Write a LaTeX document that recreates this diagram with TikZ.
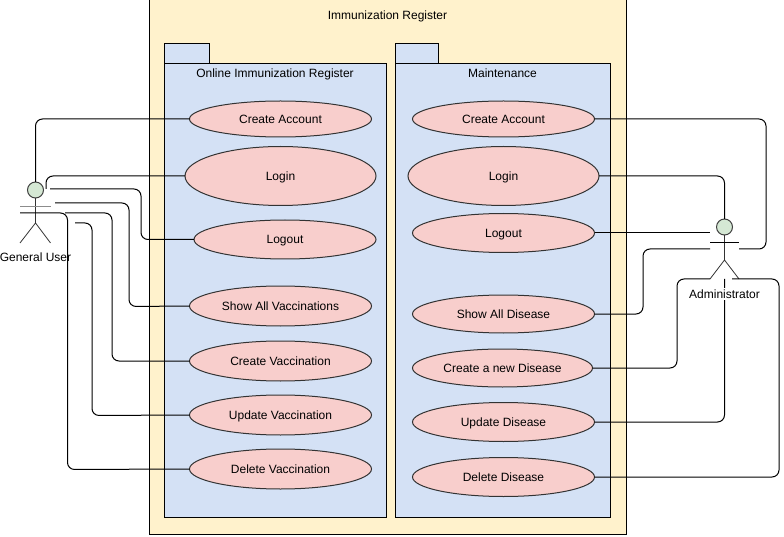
\documentclass[tikz,border=0pt]{standalone}
\usepackage{fontspec}
\setmainfont{Liberation Sans}
\usetikzlibrary{positioning, shapes.geometric}
\definecolor{frameyellow}{HTML}{FFF2CC}
\definecolor{packblue}{HTML}{D4E1F5}
\definecolor{casepink}{HTML}{F8CECC}
\definecolor{headgreen}{HTML}{D5E8D4}
\tikzset{
    box/.style={draw, rectangle, outer sep=0pt, inner sep=0pt},
    usecase/.style={draw=black!80, fill=casepink, ellipse, inner sep=0pt, outer sep=0pt, text height=8.6pt, text depth=0pt},
    casewide/.style={usecase, minimum width=182pt, minimum height=39pt},
    head/.style={draw=black!75, fill=headgreen, circle, minimum size=16pt, inner sep=0pt, outer sep=0pt},
    title/.style={inner sep=0pt, text height=8.6pt, text depth=0pt},
    link/.style={draw, rounded corners=7pt},
    limb/.style={draw=black!80, line width=0.8pt}
}
\begin{document}
\begin{tikzpicture}[x=1pt, y=-1pt, line width=1pt, font=\fontsize{12}{14}\selectfont]
    \useasboundingbox (0,0) rectangle (784,537);
    % frames
    \node [box, fill=frameyellow, minimum width=477pt, minimum height=534pt] (R) at (387.5, 267) {};
    \node [title] (Rt) at (387.5, 15) {Immunization Register};
    \node [box, fill=packblue, minimum width=45pt, minimum height=20pt] (Lt) at (186.5, 53.5) {};
    \node [box, fill=packblue, minimum width=222pt, minimum height=454pt] (L) at (275, 290.5) {};
    \node [title] (Ln) at (275, 73) {Online Immunization Register};
    \node [box, fill=packblue, minimum width=43pt, minimum height=20pt] (Mt) at (416.5, 53.5) {};
    \node [box, fill=packblue, minimum width=215pt, minimum height=454pt] (M) at (502.5, 290.5) {};
    \node [title] (Mn) at (502.5, 73) {Maintenance};
    % left use cases
    \node [casewide, minimum height=36pt] (LA) at (280.5, 119) {Create Account};
    \node [usecase, minimum width=191pt, minimum height=59pt] (LL) at (280.5, 176) {Login};
    \node [casewide] (LO) at (285, 239.5) {Logout};
    \node [casewide, minimum height=40pt] (LS) at (280.5, 306) {Show All Vaccinations};
    \node [casewide, minimum height=40pt] (LC) at (280.5, 361) {Create Vaccination};
    \node [casewide, minimum height=40pt] (LU) at (280.5, 415) {Update Vaccination};
    \node [casewide, minimum height=40pt] (LD) at (280.5, 469) {Delete Vaccination};
    % right use cases
    \node [casewide, minimum height=36pt] (MA) at (503.5, 119) {Create Account};
    \node [usecase, minimum width=191pt, minimum height=59pt] (ML) at (503.5, 176) {Login};
    \node [casewide] (MO) at (503.5, 233) {Logout};
    \node [casewide, minimum height=38pt] (MS) at (503.5, 314) {Show All Disease};
    \node [casewide, minimum width=180pt, minimum height=38pt] (MC) at (502.5, 368) {Create a new Disease};
    \node [casewide] (MU) at (503.5, 422) {Update Disease};
    \node [casewide] (MD) at (503.5, 477) {Delete Disease};
    % general user
    \node [head] (G) at (35.5, 190) {};
    \coordinate (Gb) at (35.5, 223);
    \coordinate (Gl) at (20, 243);
    \coordinate (Gr) at (50.5, 243);
    \draw [limb] (G) -- (Gb);
    \draw [limb] (Gl) -- (Gb) -- (Gr);
    \draw [draw=black!45] (20, 207) -- (50.5, 207);
    % administrator
    \node [head] (A) at (724.5, 227) {};
    \coordinate (Ab) at (724.5, 260);
    \coordinate (Al) at (710, 279);
    \coordinate (Ar) at (739, 279);
    \draw [limb] (A) -- (Ab);
    \draw [limb] (Al) -- (Ab) -- (Ar);
    \draw (710, 243) -- (739, 243);
    % free ends at the general user
    \coordinate (g1) at (46, 189);
    \coordinate (g2) at (50, 189);
    \coordinate (g3) at (55, 203);
    \coordinate (g4) at (20, 213);
    \coordinate (g5) at (65, 213);
    \coordinate (g6) at (75, 223);
    % free ends at the administrator
    \coordinate (a1) at (739, 249);
    \coordinate (a2) at (710, 233);
    \coordinate (a3) at (710, 249);
    \coordinate (a4) at (710, 279);
    \coordinate (a5) at (724.5, 279);
    \coordinate (a6) at (732, 279);
    % left connectors
    \draw [link] (LA.west) -| (G.north);
    \draw [link] (LL.west) -| (g1);
    \draw [link] (g2) -- (141, 189) -- (141, 239.5) -- (LO.west);
    \draw [link] (g3) -- (129, 203) -- (129, 306.5) -- (LS.west);
    \draw [link] (g5) -- (112, 213) -- (112, 361) -- (LC.west);
    \draw [link] (g6) -- (92, 223) -- (92, 415.5) -- (LU.west);
    \draw [link] (g4) -- (67.5, 213) -- (67.5, 469.5) -- (LD.west);
    % right connectors
    \draw [link] (MA.east) -- (766, 119) -- (766, 249) -- (a1);
    \draw [link] (ML.east) -| (A.north);
    \draw [link] (MO.east) -- (a2);
    \draw [link] (MS.east) -- (643, 314) -- (643, 249) -- (a3);
    \draw [link] (MC.east) -- (677, 368) -- (677, 279) -- (a4);
    \draw [link] (MU.east) -| (a5);
    \draw [link] (MD.east) -- (779, 477) -- (779, 279) -- (a6);
    % actor names
    \node [title] (Gn) at (35.5, 257) {General User};
    \node [title, fill=white, inner xsep=1pt, inner ysep=2pt] (An) at (724.5, 294) {Administrator};
\end{tikzpicture}
\end{document}
